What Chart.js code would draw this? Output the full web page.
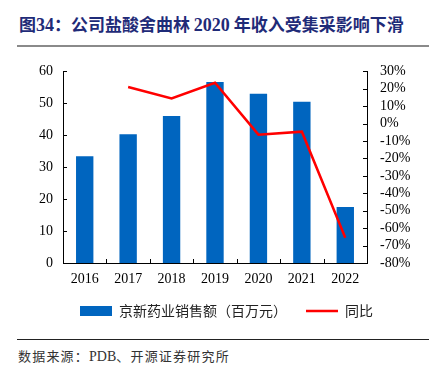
<!DOCTYPE html>
<html>
<head>
<meta charset="utf-8">
<script src="https://cdn.jsdelivr.net/npm/chart.js@4"></script>
<style>
  html, body { margin: 0; padding: 0; background: #fff; }
  #page { position: relative; width: 429px; height: 378px; overflow: hidden; }
  #title {
    position: absolute; left: 19px; top: 11px;
    font-family: "Noto Sans CJK SC", "Liberation Serif", serif;
    font-weight: bold; font-size: 17px; color: #1f2b78; white-space: nowrap;
  }
  #title .num { font-family: "Liberation Serif", serif; font-size: 18px; }
  #rule1 { position: absolute; left: 17px; right: 0; top: 45px; height: 2px; background: #8a8a8a; }
  #rule2 { position: absolute; left: 17px; right: 0; top: 339px; height: 1px; background: #222; }
  #source {
    position: absolute; left: 18px; top: 346px; letter-spacing: 1.2px;
    font-family: "Noto Sans CJK SC", sans-serif; font-size: 13px; color: #333; white-space: nowrap;
  }
  #source .lat { font-family: "Liberation Serif", serif; font-size: 14px; letter-spacing: 0; }
  #chartBox { position: absolute; left: 0; top: 50px; width: 429px; height: 278px; }
</style>
</head>
<body>
<div id="page">
  <div id="title">图<span class="num">34</span>：公司盐酸舍曲林 <span class="num">2020</span> 年收入受集采影响下滑</div>
  <div id="rule1"></div>
  <div id="chartBox"><canvas id="c" width="429" height="278"></canvas></div>
  <div id="rule2"></div>
  <div id="source">数据来源：<span class="lat">PDB</span>、开源证券研究所</div>
</div>
<script>
// 数据
const years = ['2016', '2017', '2018', '2019', '2020', '2021', '2022'];
const sales = [33.4, 40.3, 46.0, 56.7, 53.0, 50.5, 17.5];
const yoy = [null, 21, 14.5, 23.5, -6.3, -4.6, -65.5];

const tickFont = { family: '"Liberation Serif", "Times New Roman", serif', size: 14 };

// ticks pointing into the plot area
const innerTicks = {
  id: 'innerTicks',
  afterDraw(chart) {
    const ctx = chart.ctx;
    const a = chart.chartArea;
    const len = 4;
    ctx.save();
    ctx.strokeStyle = '#000';
    ctx.lineWidth = 1;
    ctx.beginPath();
    const yl = chart.scales.y;
    yl.ticks.forEach((t, i) => {
      const py = Math.round(yl.getPixelForTick(i)) + 0.5;
      ctx.moveTo(a.left, py); ctx.lineTo(a.left + len, py);
    });
    const yr = chart.scales.y1;
    yr.ticks.forEach((t, i) => {
      const py = Math.round(yr.getPixelForTick(i)) + 0.5;
      ctx.moveTo(a.right, py); ctx.lineTo(a.right - len, py);
    });
    const xs = chart.scales.x;
    const w = (xs.getPixelForValue(1) - xs.getPixelForValue(0));
    for (let i = 1; i < years.length; i++) {
      const px = Math.round(xs.getPixelForValue(i) - w / 2) + 0.5;
      ctx.moveTo(px, a.bottom); ctx.lineTo(px, a.bottom - len);
    }
    ctx.stroke();
    ctx.restore();
  }
};

new Chart(document.getElementById('c'), {
  data: {
    labels: years,
    datasets: [
      {
        type: 'line',
        label: '同比',
        data: yoy,
        yAxisID: 'y1',
        borderColor: '#ff0000',
        backgroundColor: '#ff0000',
        borderWidth: 2.5,
        pointRadius: 0,
        pointStyle: 'line',
        tension: 0,
        order: 0
      },
      {
        type: 'bar',
        label: '京新药业销售额（百万元）',
        data: sales,
        yAxisID: 'y',
        backgroundColor: '#0065bf',
        borderWidth: 0,
        barPercentage: 0.4,
        categoryPercentage: 1,
        pointStyle: 'rect',
        order: 1
      }
    ]
  },
  options: {
    responsive: false,
    animation: false,
    layout: { padding: { top: 3, left: 24, right: 0, bottom: 0 } },
    plugins: {
      tooltip: { enabled: false },
      legend: {
        position: 'bottom',
        reverse: true,
        labels: {
          usePointStyle: true,
          pointStyleWidth: 32,
          boxHeight: 10,
          padding: 19,
          color: '#222',
          font: { family: '"Noto Sans CJK SC", sans-serif', size: 14 }
        }
      }
    },
    scales: {
      x: {
        offset: true,
        grid: { display: false, drawOnChartArea: false, drawTicks: false },
        border: { display: true, color: '#000', width: 1 },
        ticks: { color: '#000', font: tickFont, padding: 8, maxRotation: 0 },
        afterFit: s => { s.height = 22; }
      },
      y: {
        position: 'left',
        min: 0, max: 60,
        grid: { display: false, drawTicks: false },
        border: { display: true, color: '#000', width: 1 },
        ticks: { stepSize: 10, color: '#000', font: tickFont, padding: 10 },
        afterFit: s => { s.width = 39; }
      },
      y1: {
        position: 'right',
        min: -80, max: 30,
        grid: { display: false, drawTicks: false },
        border: { display: true, color: '#000', width: 1 },
        ticks: { stepSize: 10, autoSkip: false, color: '#000', font: tickFont, padding: 13, callback: v => v + '%' },
        afterFit: s => { s.width = 62; }
      }
    }
  },
  plugins: [innerTicks]
});
</script>
</body>
</html>
